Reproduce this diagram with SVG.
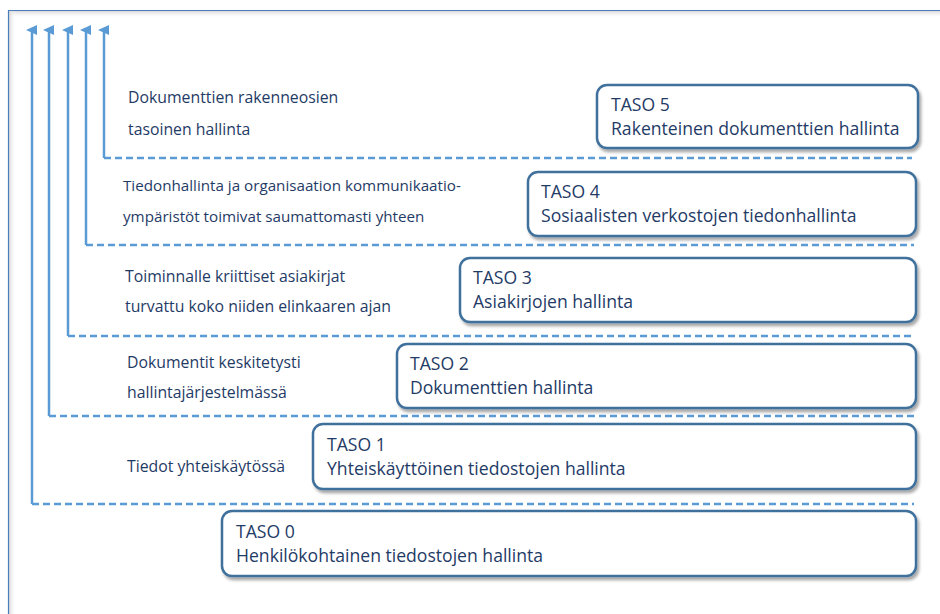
<svg xmlns="http://www.w3.org/2000/svg" width="940" height="614" viewBox="0 0 940 614">
  <defs>
    <style>
      .box { fill: #ffffff; stroke: #41719c; stroke-width: 2.5; filter: url(#shadow); }
      .t { font-family: "Open Sans", "Liberation Sans", sans-serif; fill: #1f3b66; }
      .bt { font-size: 17.6px; }
      .lbl { font-size: 15.8px; }
      .lbl.sm { font-size: 15.2px; }
      .rise { fill: none; stroke: #5b9bd5; stroke-width: 2.5; }
      .dash { fill: none; stroke: #5b9bd5; stroke-width: 2.5; stroke-dasharray: 7 4; }
    </style>
    <filter id="shadow" x="-5%" y="-20%" width="110%" height="150%">
      <feDropShadow dx="2" dy="3" stdDeviation="1.8" flood-color="#000000" flood-opacity="0.35"/>
    </filter>
    <marker id="head" markerWidth="10" markerHeight="11" refX="5" refY="6" orient="auto-start-reverse" markerUnits="userSpaceOnUse" viewBox="0 0 10 11">
      <path d="M0,11 L5,0 L10,11 Z" fill="#5b9bd5"/>
    </marker>
    <linearGradient id="shadeTop" x1="0" y1="0" x2="0" y2="1">
      <stop offset="0" stop-color="#d9d9d9"/>
      <stop offset="1" stop-color="#ffffff" stop-opacity="0"/>
    </linearGradient>
    <linearGradient id="shadeLeft" x1="0" y1="0" x2="1" y2="0">
      <stop offset="0" stop-color="#d9d9d9"/>
      <stop offset="1" stop-color="#ffffff" stop-opacity="0"/>
    </linearGradient>
  </defs>

  <!-- page background and frame -->
  <rect x="0" y="0" width="940" height="614" fill="#ffffff"/>
  <rect x="9" y="11" width="931" height="7" fill="url(#shadeTop)"/>
  <rect x="9" y="11" width="7" height="603" fill="url(#shadeLeft)"/>
  <path d="M8.5,614 V10.5 H940" fill="none" stroke="#4a7ebb" stroke-width="1.2"/>

  <!-- connectors: one rising arrow per level, closed by a dashed divider -->
  <g id="connectors">
    <path class="rise" d="M32,504 V30" marker-end="url(#head)"/>
    <path class="dash" d="M32,504 H914"/>
    <path class="rise" d="M49,416 V30" marker-end="url(#head)"/>
    <path class="dash" d="M49,416 H914"/>
    <path class="rise" d="M68,336 V30" marker-end="url(#head)"/>
    <path class="dash" d="M68,336 H914"/>
    <path class="rise" d="M86,245 V30" marker-end="url(#head)"/>
    <path class="dash" d="M86,245 H914"/>
    <path class="rise" d="M104,158 V30" marker-end="url(#head)"/>
    <path class="dash" d="M104,158 H912"/>
  </g>

  <!-- level descriptions -->
  <g id="labels">
    <text class="t lbl" x="128" y="103">Dokumenttien rakenneosien</text>
    <text class="t lbl" x="128" y="135">tasoinen hallinta</text>
    <text class="t lbl sm" x="123" y="191">Tiedonhallinta ja organisaation kommunikaatio-</text>
    <text class="t lbl sm" x="123" y="222">ympäristöt toimivat saumattomasti yhteen</text>
    <text class="t lbl" x="125" y="282">Toiminnalle kriittiset asiakirjat</text>
    <text class="t lbl" x="125" y="312">turvattu koko niiden elinkaaren ajan</text>
    <text class="t lbl" x="127" y="368">Dokumentit keskitetysti</text>
    <text class="t lbl" x="127" y="398">hallintajärjestelmässä</text>
    <text class="t lbl" x="127" y="472">Tiedot yhteiskäytössä</text>
  </g>

  <g id="taso5">
    <rect class="box" x="597" y="85" width="321" height="63" rx="10"/>
    <text class="t bt" x="611" y="111">TASO 5</text>
    <text class="t bt" x="611" y="135">Rakenteinen dokumenttien hallinta</text>
  </g>
  <g id="taso4">
    <rect class="box" x="528" y="172" width="388" height="64" rx="10"/>
    <text class="t bt" x="541" y="198">TASO 4</text>
    <text class="t bt" x="541" y="222">Sosiaalisten verkostojen tiedonhallinta</text>
  </g>
  <g id="taso3">
    <rect class="box" x="460" y="258" width="456" height="64" rx="10"/>
    <text class="t bt" x="473" y="284">TASO 3</text>
    <text class="t bt" x="473" y="308">Asiakirjojen hallinta</text>
  </g>
  <g id="taso2">
    <rect class="box" x="397" y="344" width="519" height="64" rx="10"/>
    <text class="t bt" x="410" y="370">TASO 2</text>
    <text class="t bt" x="410" y="394">Dokumenttien hallinta</text>
  </g>
  <g id="taso1">
    <rect class="box" x="313" y="424" width="603" height="65" rx="10"/>
    <text class="t bt" x="327" y="451">TASO 1</text>
    <text class="t bt" x="327" y="475">Yhteiskäyttöinen tiedostojen hallinta</text>
  </g>
  <g id="taso0">
    <rect class="box" x="222" y="511" width="694" height="65" rx="10"/>
    <text class="t bt" x="236" y="538">TASO 0</text>
    <text class="t bt" x="236" y="562">Henkilökohtainen tiedostojen hallinta</text>
  </g>
</svg>
